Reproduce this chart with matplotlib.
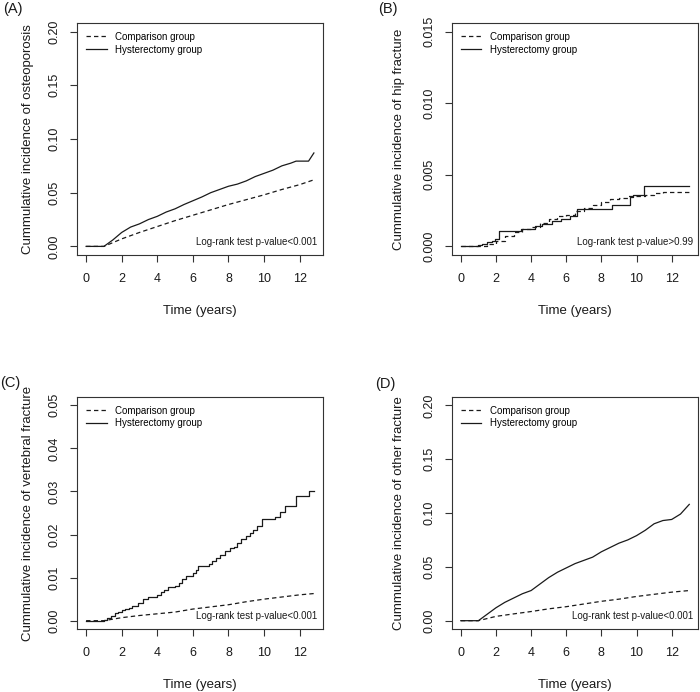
import matplotlib.pyplot as plt

plt.rcParams['font.family'] = ['Liberation Sans', 'DejaVu Sans']

# Cumulative incidence curves (time in years)
x_ticks = [0, 2, 4, 6, 8, 10, 12]

# (A) osteoporosis
a_comp_t = [0, 1, 2, 3, 4, 5, 6, 7, 8, 9, 10, 11, 12, 12.8]
a_comp = [0, 0, 0.007, 0.013, 0.0185, 0.024, 0.029, 0.034, 0.039, 0.0435, 0.048, 0.053, 0.0575, 0.062]
a_hyst_t = [0, 1.0, 1.5, 2.0, 2.5, 3.0, 3.5, 4.0, 4.5, 5.0, 5.5, 6.0, 6.5, 7.0, 7.5, 8.0, 8.5,
            9.0, 9.5, 10.0, 10.5, 11.0, 11.5, 11.8, 12.5, 12.8]
a_hyst = [0, 0, 0.006, 0.013, 0.018, 0.021, 0.025, 0.028, 0.032, 0.035, 0.039, 0.0425, 0.046,
          0.050, 0.053, 0.056, 0.058, 0.061, 0.065, 0.068, 0.071, 0.075, 0.0775, 0.0794, 0.0794, 0.087]

# (B) hip fracture
b_comp_t = [0, 1.0, 1.5, 2.0, 2.5, 3.0, 3.5, 4.0, 4.5, 5.0, 5.5, 6.0, 6.5, 7.0, 7.5, 8.0, 8.5,
            9.0, 9.5, 10.0, 10.5, 11.0, 11.5, 13.0]
b_comp = [0, 0, 0.0002, 0.0004, 0.0007, 0.0010, 0.0012, 0.00135, 0.0016, 0.0019, 0.0021, 0.0022,
          0.0025, 0.0027, 0.0029, 0.0031, 0.0033, 0.0034, 0.0035, 0.0035, 0.0036, 0.0037, 0.0038, 0.0038]
b_hyst_t = [0, 1.0, 1.2, 1.5, 1.8, 1.95, 2.15, 3.4, 4.2, 4.6, 5.2, 5.7, 6.2, 6.6, 8.6, 9.65, 9.8,
            10.4, 13.0]
b_hyst = [0, 0.0001, 0.0002, 0.0003, 0.0004, 0.00055, 0.0011, 0.0012, 0.0014, 0.00158, 0.0018,
          0.0019, 0.0021, 0.0026, 0.0029, 0.00344, 0.00356, 0.0042, 0.0042]

# (C) vertebral fracture
c_comp_t = [0, 1, 2, 3, 4, 5, 6, 7, 8, 9, 10, 11, 12, 12.8]
c_comp = [0, 0, 0.0007, 0.0012, 0.0016, 0.0020, 0.0027, 0.0032, 0.0037, 0.0044, 0.0050, 0.0055, 0.0060, 0.0063]
c_hyst_t = [0, 1.0, 1.2, 1.4, 1.6, 1.8, 2.0, 2.2, 2.4, 2.6, 2.9, 3.2, 3.5, 4.0, 4.2, 4.4, 4.6, 5.0,
            5.2, 5.4, 5.6, 6.0, 6.2, 6.3, 6.9, 7.1, 7.3, 7.5, 7.8, 8.1, 8.3, 8.5, 8.7, 9.0, 9.2,
            9.4, 9.6, 9.9, 10.6, 10.9, 11.2, 11.8, 12.5, 12.8]
c_hyst = [0, 0.0002, 0.0007, 0.0012, 0.0017, 0.0021, 0.0024, 0.0027, 0.0030, 0.0035, 0.0041,
          0.0050, 0.0056, 0.0060, 0.0066, 0.0072, 0.0078, 0.0081, 0.0088, 0.0096, 0.0103, 0.0110,
          0.0118, 0.0126, 0.0131, 0.0138, 0.0145, 0.0152, 0.0161, 0.0168, 0.0172, 0.0180, 0.0190,
          0.0197, 0.0203, 0.0211, 0.0220, 0.0235, 0.0240, 0.0253, 0.0267, 0.0290, 0.0302, 0.0302]

# (D) other fracture
d_comp_t = [0, 1, 2, 3, 4, 5, 6, 7, 8, 9, 10, 11, 12, 13]
d_comp = [0, 0, 0.004, 0.0063, 0.0085, 0.011, 0.013, 0.0155, 0.018, 0.020, 0.0225, 0.0245, 0.0265, 0.028]
d_hyst_t = [0, 1.0, 1.5, 2.0, 2.5, 3.0, 3.5, 4.0, 4.5, 5.0, 5.5, 6.0, 6.5, 7.0, 7.5, 8.0, 8.5,
            9.0, 9.5, 10.0, 10.5, 11.0, 11.5, 12.0, 12.5, 13.0]
d_hyst = [0, 0, 0.006, 0.012, 0.017, 0.021, 0.025, 0.028, 0.034, 0.040, 0.045, 0.049, 0.053, 0.056,
          0.059, 0.064, 0.068, 0.072, 0.075, 0.079, 0.084, 0.090, 0.093, 0.094, 0.099, 0.108]

panels = [
    # tag, comp, hyst, (comp style, hyst style), ylabel, yticks, fmt, x max, p text, box px, tag px
    ('(A)', (a_comp_t, a_comp), (a_hyst_t, a_hyst), ('default', 'default'),
     'Cummulative incidence of osteoporosis', [0, 0.05, 0.10, 0.15, 0.20], '%.2f', 12.8,
     'Log-rank test p-value<0.001', (77, 23, 246, 232), (3, 2)),
    ('(B)', (b_comp_t, b_comp), (b_hyst_t, b_hyst), ('steps-post', 'steps-post'),
     'Cummulative incidence of hip fracture', [0, 0.005, 0.010, 0.015], '%.3f', 13.0,
     'Log-rank test p-value>0.99', (451.7, 23, 246.7, 232), (378, 2)),
    ('(C)', (c_comp_t, c_comp), (c_hyst_t, c_hyst), ('default', 'steps-post'),
     'Cummulative incidence of vertebral fracture', [0, 0.01, 0.02, 0.03, 0.04, 0.05], '%.2f', 12.8,
     'Log-rank test p-value<0.001', (77, 396.7, 246, 232.6), (0, 376)),
    ('(D)', (d_comp_t, d_comp), (d_hyst_t, d_hyst), ('default', 'default'),
     'Cummulative incidence of other fracture', [0, 0.05, 0.10, 0.15, 0.20], '%.2f', 13.0,
     'Log-rank test p-value<0.001', (451.7, 396.7, 246.7, 232.6), (375, 377)),
]

W, H = 700, 692
fig = plt.figure(figsize=(W / 100, H / 100), dpi=100)
ink = '#1a1a1a'

for tag, comp, hyst, ds, ylab, yticks, fmt, xmax, ptext, box, tagpos in panels:
    left, top, w, h = box
    ax = fig.add_axes([left / W, 1 - (top + h) / H, w / W, h / H])
    ax.plot(comp[0], comp[1], color=ink, lw=0.9, ls=(0, (3.5, 2.5)), drawstyle=ds[0],
            label='Comparison group')
    ax.plot(hyst[0], hyst[1], color=ink, lw=0.9, drawstyle=ds[1], label='Hysterectomy group')

    ax.set_xlim(-0.04 * xmax, xmax * 1.04)
    ymax = yticks[-1]
    ax.set_ylim(-0.04 * ymax, ymax * 1.04)
    ax.set_xticks(x_ticks)
    ax.set_yticks(yticks)
    ax.set_yticklabels([fmt % v for v in yticks], rotation=90, va='center')
    ax.tick_params(length=5, width=0.8, color='#333333', labelsize=9, labelcolor=ink, pad=8)
    ax.tick_params(axis='y', pad=7)
    for s in ax.spines.values():
        s.set_color('#333333')
        s.set_linewidth(0.8)

    ax.set_xlabel('Time (years)', fontsize=9.5, color=ink, labelpad=14)
    ax.set_ylabel(ylab, fontsize=9.5, color=ink, labelpad=10 if left < 300 else 13)

    ax.legend(loc='upper left', bbox_to_anchor=(0.037, 0.962), frameon=False, fontsize=7,
              handlelength=2.1, handletextpad=0.9, labelspacing=0.3, borderpad=0,
              borderaxespad=0)
    ax.text(0.978, 0.057, ptext, transform=ax.transAxes, ha='right', va='center',
            fontsize=7, color=ink)
    fig.text(tagpos[0] / W, 1 - tagpos[1] / H, tag, ha='left', va='top', fontsize=10.5, color=ink)

fig.savefig('out.png', dpi=100)
